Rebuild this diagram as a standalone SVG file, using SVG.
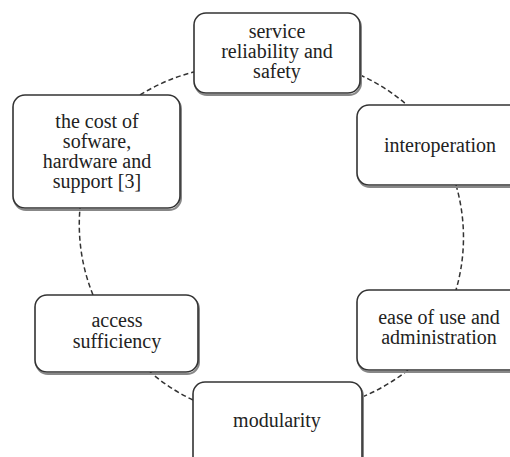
<svg xmlns="http://www.w3.org/2000/svg" width="510" height="457" viewBox="0 0 510 457">
<style>
.box{fill:#fff;stroke:#333;stroke-width:1.6}
.shadow{fill:none;stroke:#888;stroke-width:2}
.conn{fill:none;stroke:#333;stroke-width:1.5;stroke-dasharray:5 3}
.t{font-family:'Times New Roman','Liberation Serif','DejaVu Serif',serif;font-size:20px;fill:#222;text-anchor:middle}
</style>
<rect width="510" height="457" fill="#fff"/>
<g id="connectors">
<path class="conn" d="M360,75 A188,188 0 0 1 407,105"/>
<path class="conn" d="M456,185 A188,188 0 0 1 456,290"/>
<path class="conn" d="M408,370 A188,188 0 0 1 362,397"/>
<path class="conn" d="M193,400 A188,188 0 0 1 150,372"/>
<path class="conn" d="M93,295 A188,188 0 0 1 80,208"/>
<path class="conn" d="M140,95 A188,188 0 0 1 194,72"/>
</g>
<g id="n-service">
<rect class="shadow" x="195" y="15" width="166" height="80" rx="12"/>
<rect class="box" x="194" y="13" width="166" height="80" rx="12"/>
<text class="t" x="277" y="38">service</text>
<text class="t" x="277" y="58">reliability and</text>
<text class="t" x="277" y="78">safety</text>
</g>
<g id="n-cost">
<rect class="shadow" x="14" y="97" width="167" height="113" rx="12"/>
<rect class="box" x="13" y="95" width="167" height="113" rx="12"/>
<text class="t" x="97" y="128">the cost of</text>
<text class="t" x="97" y="148">sofware,</text>
<text class="t" x="97" y="168">hardware and</text>
<text class="t" x="97" y="188">support [3]</text>
</g>
<g id="n-interop">
<rect class="shadow" x="358" y="107" width="170" height="80" rx="12"/>
<rect class="box" x="357" y="105" width="170" height="80" rx="12"/>
<text class="t" x="440" y="152">interoperation</text>
</g>
<g id="n-ease">
<rect class="shadow" x="358" y="292" width="170" height="80" rx="12"/>
<rect class="box" x="357" y="290" width="170" height="80" rx="12"/>
<text class="t" x="439" y="324">ease of use and</text>
<text class="t" x="439" y="344">administration</text>
</g>
<g id="n-modularity">
<rect class="shadow" x="194" y="384" width="169" height="100" rx="12"/>
<rect class="box" x="193" y="382" width="169" height="100" rx="12"/>
<text class="t" x="277" y="427">modularity</text>
</g>
<g id="n-access">
<rect class="shadow" x="36" y="297" width="163" height="77" rx="12"/>
<rect class="box" x="35" y="295" width="163" height="77" rx="12"/>
<text class="t" x="117" y="327">access</text>
<text class="t" x="117" y="348">sufficiency</text>
</g>
</svg>
